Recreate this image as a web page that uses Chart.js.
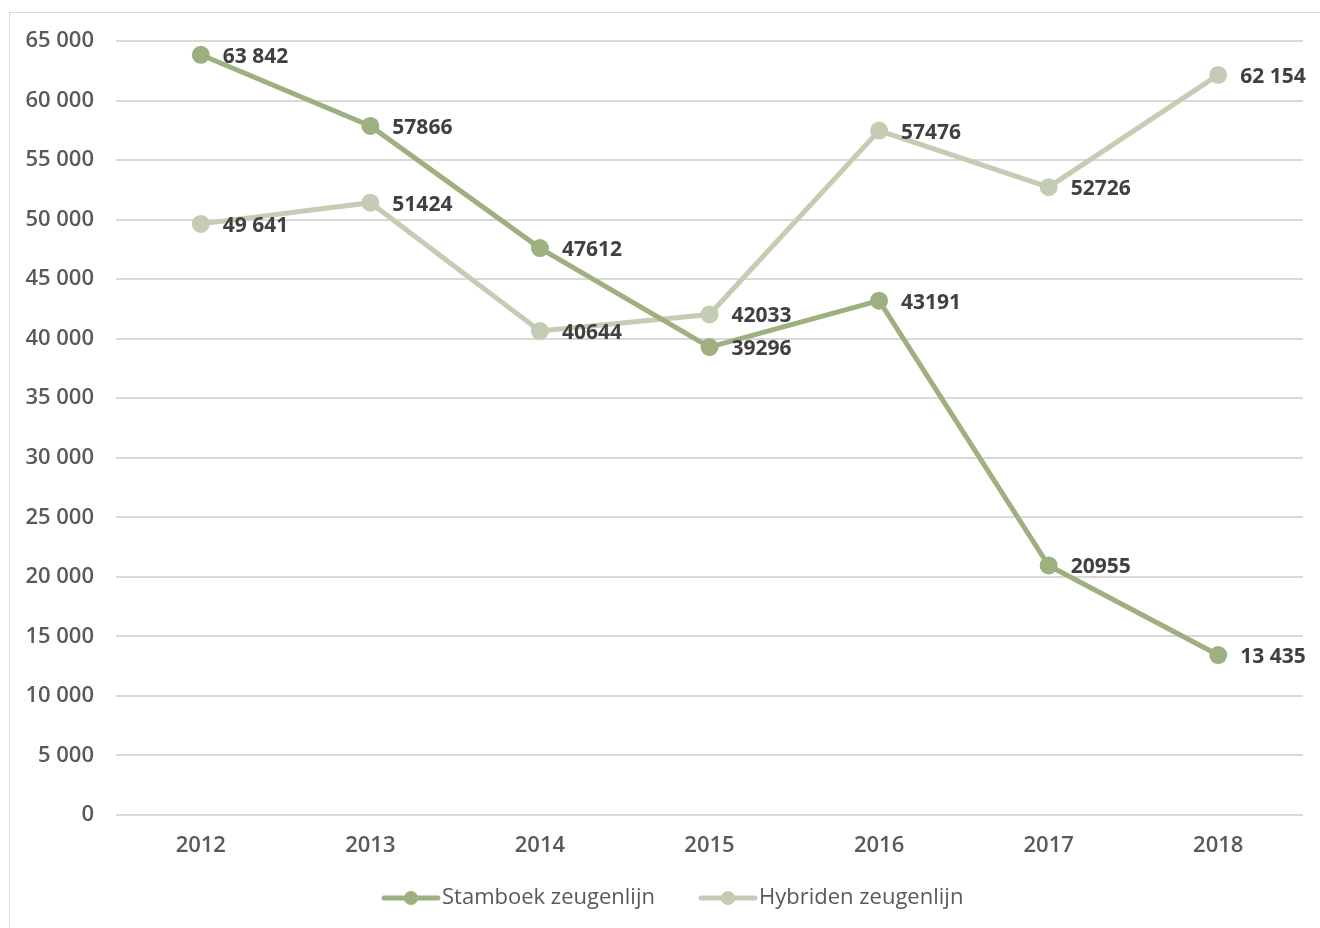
<!DOCTYPE html>
<html>
<head>
<meta charset="utf-8">
<script src="https://cdn.jsdelivr.net/npm/chart.js@4"></script>
<style>
  html, body { margin: 0; padding: 0; background: #fff; overflow: hidden; }
  #wrap { position: relative; width: 1320px; height: 928px; }
  #frame { position: absolute; left: 9px; top: 12px; width: 1400px; height: 1000px;
           border: 1px solid #d9d9d9; box-sizing: border-box; }
  canvas { position: absolute; left: 0; top: 0; }
</style>
</head>
<body>
<div id="wrap">
  <div id="frame"></div>
  <canvas id="chart" width="1320" height="928"></canvas>
</div>
<script>
'use strict';

// ── Data ─────────────────────────────────────────────────────────────────────
const years        = ['2012', '2013', '2014', '2015', '2016', '2017', '2018'];
const stamboek     = [63842, 57866, 47612, 39296, 43191, 20955, 13435];
const hybriden     = [49641, 51424, 40644, 42033, 57476, 52726, 62154];
const stamboekText = ['63 842', '57866', '47612', '39296', '43191', '20955', '13 435'];
const hybridenText = ['49 641', '51424', '40644', '42033', '57476', '52726', '62 154'];
const seriesNames  = ['Stamboek zeugenlijn', 'Hybriden zeugenlijn'];

const GREEN_DARK  = '#9eb07f';
const GREEN_LIGHT = '#c4cdb4';
const FONT        = '"Open Sans", "Noto Sans", sans-serif';

const fmtThousands = v => String(v).replace(/\B(?=(\d{3})+(?!\d))/g, ' ');

// ── Plugins ──────────────────────────────────────────────────────────────────
// value labels to the right of each point
const valueLabels = {
  id: 'valueLabels',
  afterDatasetsDraw(chart) {
    const ctx = chart.ctx;
    ctx.save();
    ctx.font = `bold 21px ${FONT}`;
    ctx.fillStyle = '#404040';
    ctx.textAlign = 'left';
    ctx.textBaseline = 'middle';
    chart.data.datasets.forEach((ds, i) => {
      chart.getDatasetMeta(i).data.forEach((pt, j) => {
        ctx.fillText(ds.labels[j], pt.x + 22, pt.y + 2);
      });
    });
    ctx.restore();
  }
};

// bottom legend with line + dot markers
const lineLegend = {
  id: 'lineLegend',
  afterDraw(chart) {
    const ctx = chart.ctx;
    const y = 898;
    const starts = [384, 701];
    ctx.save();
    ctx.font = `22px ${FONT}`;
    ctx.textBaseline = 'middle';
    chart.data.datasets.forEach((ds, i) => {
      const x = starts[i];
      ctx.strokeStyle = ds.borderColor;
      ctx.lineWidth = 5;
      ctx.lineCap = 'round';
      ctx.beginPath();
      ctx.moveTo(x, y);
      ctx.lineTo(x + 54, y);
      ctx.stroke();
      ctx.fillStyle = ds.borderColor;
      ctx.beginPath();
      ctx.arc(x + 27, y, 7, 0, Math.PI * 2);
      ctx.fill();
      ctx.fillStyle = '#595959';
      ctx.fillText(ds.label, x + 58, y);
    });
    ctx.restore();
  }
};

// ── Chart ────────────────────────────────────────────────────────────────────
function series(label, data, labels, color) {
  return {
    label, data, labels,
    borderColor: color, backgroundColor: color,
    pointBackgroundColor: color, pointBorderColor: color,
    borderWidth: 5, pointRadius: 6.5, pointHoverRadius: 6.5,
    tension: 0, fill: false,
  };
}

const tickFont = { family: FONT, size: 22, weight: '600' };

new Chart(document.getElementById('chart'), {
  type: 'line',
  data: {
    labels: years,
    datasets: [
      series(seriesNames[0], stamboek, stamboekText, GREEN_DARK),
      series(seriesNames[1], hybriden, hybridenText, GREEN_LIGHT),
    ],
  },
  options: {
    responsive: false,
    animation: false,
    layout: { padding: { top: 41, right: 17, left: 0, bottom: 0 } },
    plugins: { legend: { display: false }, tooltip: { enabled: false } },
    scales: {
      x: {
        offset: true,
        grid: { display: false, drawTicks: false },
        border: { display: false },
        ticks: { color: '#595959', font: tickFont, padding: 18 },
        afterFit: s => { s.height = 113; },
      },
      y: {
        min: 0, max: 65000,
        grid: { color: '#d9d9d9', lineWidth: 2, drawTicks: false },
        border: { display: false },
        ticks: {
          stepSize: 5000,
          color: '#595959',
          font: tickFont,
          padding: 22,
          callback: v => fmtThousands(v),
        },
        afterFit: s => { s.width = 116; },
      },
    },
  },
  plugins: [valueLabels, lineLegend],
});
</script>
</body>
</html>
